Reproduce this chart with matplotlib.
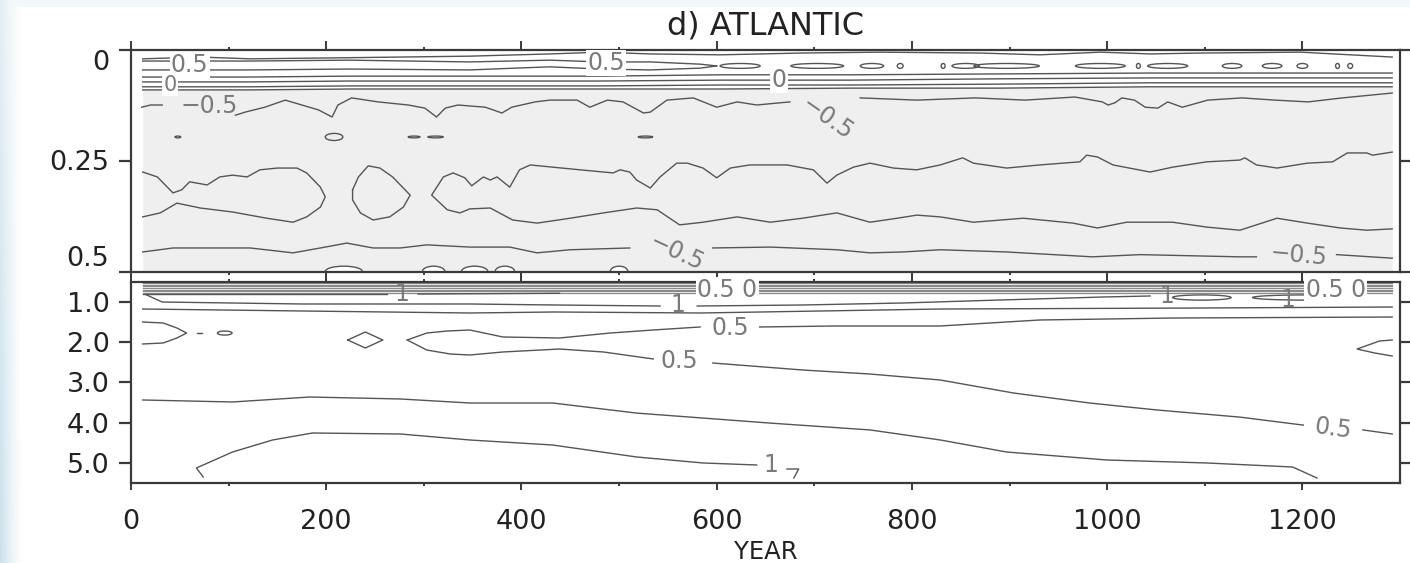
import numpy as np
import matplotlib.pyplot as plt
from matplotlib.patches import Ellipse

# ---- data: x = model year, y = depth (km) ----
# upper panel (0 - 0.5 km)
t1_yr = [12, 71, 122, 204, 276, 347, 429, 481, 532, 604, 686, 767, 870, 931, 993, 1044, 1095, 1198, 1292]
t1_dep = [.021, .017, .021, .019, .017, .015, .010, .006, .010, .012, .008, .006, .008, .012, .006, .010, .008, .006, .017]

t2_yr = [12, 122, 224, 347, 429, 481, 532, 583, 600]
t2u_dep = [.026, .026, .024, .028, .024, .028, .028, .033, .037]
t2l_dep = [.046, .046, .044, .046, .039, .044, .046, .042, .037]

# small closed 0.5 islands along ~0.037 km
isl_yr = [624, 703, 759, 788, 832, 855, 897, 993, 1032, 1062, 1128, 1169, 1200, 1236, 1249]
isl_w = [41, 54, 24, 6, 4, 28, 67, 51, 4, 41, 20, 20, 11, 4, 5]

strat_yr = [12, 122, 224, 347, 481, 604, 737, 890, 1044, 1198, 1292]
t3_dep = [.062, .062, .060, .060, .060, .057, .057, .055, .053, .053, .053]
t4_dep = [.073, .073, .071, .071, .071, .069, .069, .066, .064, .064, .064]
t5_dep = [.084, .084, .082, .082, .082, .080, .080, .078, .075, .075, .075]
t6_dep = [.091, .091, .089, .089, .089, .089, .087, .087, .084, .084, .084]

t7a_yr = [11, 20, 32]
t7a_dep = [.130, .125, .125]
t7b_yr = [107, 117, 137, 158, 175, 192, 206, 212, 226, 253, 284, 301, 313, 322, 335, 363, 380, 390,
          414, 429, 457, 470, 488, 504, 525, 532, 549, 576, 600, 621, 641, 675]
t7b_dep = [.148, .141, .130, .114, .125, .136, .152, .125, .109, .118, .125, .132, .152, .132, .125, .130, .143, .130,
           .118, .114, .114, .130, .114, .118, .143, .141, .114, .109, .130, .118, .125, .118]
t7c_yr = [747, 805, 865, 916, 967, 995, 1001, 1008, 1015, 1028, 1039, 1052, 1062, 1077, 1103, 1138, 1172, 1206, 1241, 1292]
t7c_dep = [.109, .114, .109, .114, .107, .118, .125, .120, .109, .114, .130, .132, .118, .130, .114, .109, .114, .118, .109, .098]

# short pieces near 0.2 km
dash_yr = [48, 208, 290, 312, 527]
dash_w = [6, 18, 12, 16, 15]
dash_h = [.004, .016, .004, .004, .004]

m1_yr = [12, 27, 43, 52, 60, 78, 91, 104, 119, 132, 150, 170, 180, 194, 199, 194, 180, 166, 139, 104, 71, 47, 30, 12]
m1_dep = [.276, .287, .323, .316, .298, .305, .287, .283, .287, .271, .267, .267, .278, .310, .332, .355, .377, .389,
          .380, .366, .357, .346, .368, .377]
m2_yr = [227, 233, 243, 255, 268, 286, 279, 265, 248, 235, 227, 227]
m2_dep = [.316, .287, .262, .267, .287, .328, .355, .377, .384, .368, .339, .316]

m3u_yr = [308, 320, 330, 342, 349, 361, 368, 375, 388, 398, 409, 432, 460, 494, 501, 511, 518, 532, 542, 559, 570,
          586, 600, 614, 634, 672, 699, 713, 723, 740, 757, 781, 805, 829, 852, 863, 897, 931, 972, 979, 990, 1006,
          1044, 1067, 1102, 1136, 1141, 1153, 1174, 1205, 1231, 1246, 1266, 1272, 1292]
m3u_dep = [.328, .287, .278, .289, .307, .287, .294, .287, .310, .271, .260, .265, .271, .278, .271, .276, .294, .312,
           .287, .256, .256, .267, .289, .267, .260, .260, .271, .301, .283, .265, .256, .267, .271, .260, .244, .256,
           .267, .260, .253, .238, .242, .260, .276, .265, .253, .249, .244, .260, .267, .256, .253, .233, .233, .238, .231]
m3l_yr = [308, 324, 337, 347, 368, 391, 416, 450, 484, 518, 539, 562, 586, 621, 655, 688, 723, 757, 785, 805, 829,
          863, 914, 965, 990, 1020, 1067, 1102, 1136, 1174, 1205, 1239, 1266, 1292]
m3l_dep = [.328, .361, .368, .359, .357, .384, .391, .380, .368, .357, .361, .395, .389, .377, .389, .380, .368, .389,
           .380, .373, .377, .389, .380, .391, .402, .389, .389, .400, .407, .380, .391, .402, .407, .404]

t8a_yr = [12, 43, 71, 122, 166, 194, 221, 248, 276, 303, 347, 388, 416, 450, 511]
t8a_dep = [.456, .447, .447, .447, .458, .447, .436, .447, .447, .440, .445, .445, .458, .451, .447]
t8b_yr = [596, 655, 723, 757, 791, 829, 897, 985, 1034, 1136, 1153]
t8b_dep = [.447, .445, .451, .458, .456, .451, .456, .467, .462, .467, .467]
t8c_yr = [1235, 1292]
t8c_dep = [.462, .470]

hump_yr = [218, 310, 352, 383, 500]
hump_w = [38, 23, 27, 20, 18]

# lower panel (0.5 - 5.5 km)
band_dep = [0.53, 0.57, 0.61, 0.65, 0.69, 0.73, 0.77]
band_yr = [12, 1292]

b1_yr = [12, 262]
b1_dep = [0.80, 0.80]
b1b_yr = [294, 439]
b1b_dep = [0.80, 0.78]
b2a_yr = [16, 32, 175, 347, 434, 542]
b2a_dep = [0.823, 0.998, 1.047, 1.047, 1.072, 1.097]
b2b_yr = [580, 688, 791, 890, 996, 1044]
b2b_dep = [1.097, 1.072, 1.022, 0.948, 0.873, 0.848]
lens_yr = [1097, 1205]
lens_w = [60, 112]
b3_yr = [12, 175, 347, 434, 583, 829, 1095, 1292]
b3_dep = [1.172, 1.221, 1.271, 1.246, 1.271, 1.172, 1.147, 1.122]

c1_yr = [12, 33, 47, 57, 47, 33, 12]
c1_dep = [1.495, 1.520, 1.644, 1.769, 1.893, 2.017, 2.042]
c1_dash_yr = [68, 73]
c1_dash_dep = [1.769, 1.769]
c1_loop_yr = [96]
c1_loop_w = [15]
c2_yr = [222, 240, 258, 240, 222]
c2_dep = [1.943, 1.744, 1.943, 2.142, 1.943]
c3u_yr = [283, 303, 324, 347, 381, 439, 491, 535, 583]
c3u_dep = [1.943, 1.769, 1.719, 1.694, 1.868, 1.893, 1.769, 1.694, 1.619]
c3u2_yr = [644, 723, 829, 931, 1067, 1292]
c3u2_dep = [1.619, 1.594, 1.594, 1.445, 1.396, 1.371]
c3l_yr = [283, 303, 327, 347, 381, 439, 484, 535]
c3l_dep = [1.943, 2.192, 2.291, 2.316, 2.241, 2.167, 2.241, 2.415]
c3l2_yr = [596, 688, 757, 829, 904, 982, 1051, 1136, 1201]
c3l2_dep = [2.515, 2.689, 2.789, 2.938, 3.261, 3.510, 3.684, 3.861, 4.060]
c3l3_yr = [1262, 1292]
c3l3_dep = [4.180, 4.281]
c4_yr = [1292, 1279, 1256, 1274, 1292]
c4_dep = [1.943, 1.968, 2.167, 2.266, 2.341]

d1_yr = [12, 104, 183, 276, 347, 432, 518, 655, 757, 829, 897, 1000, 1102, 1190, 1215]
d1_dep = [3.435, 3.485, 3.361, 3.410, 3.510, 3.510, 3.761, 4.010, 4.180, 4.430, 4.729, 4.928, 5.002, 5.102, 5.376]
e1_yr = [74, 67, 104, 145, 186, 276, 347, 432, 518, 586, 641]
e1_dep = [5.351, 5.127, 4.729, 4.430, 4.256, 4.281, 4.430, 4.555, 4.853, 5.002, 5.052]
e1b_yr = [672, 684, 679]
e1b_dep = [5.152, 5.152, 5.376]

LC = '#555555'
TC = '#7a7a7a'
SC = '#3a3a3a'
LW = 1.0

plt.rcParams['font.family'] = 'DejaVu Sans'
fig = plt.figure(figsize=(14.1, 5.63), dpi=100)

# slide background tint at the left / top edge
bg = fig.add_axes([0, 0, 1, 1], zorder=-10)
bg.axis('off')
h, w = 563, 1410
img = np.ones((h, w, 3))
xs = np.arange(w)
ys = np.arange(h)
a = np.clip(1 - xs / 22.0, 0, 1) ** 1.3
v = 0.55 + 0.45 * ys / h
alpha = v[:, None] * a[None, :]
tint = np.array([0.80, 0.88, 0.92])
img = img * (1 - alpha[..., None]) + tint * alpha[..., None]
img[:7, :, :] = np.minimum(img[:7, :, :], np.array([0.95, 0.97, 0.98]))
bg.imshow(img, aspect='auto', extent=[0, 1, 0, 1])

ax1 = fig.add_axes([131 / 1410, 1 - 271.5 / 563, 1269 / 1410, 222 / 563])
ax2 = fig.add_axes([131 / 1410, 1 - 483 / 563, 1269 / 1410, 201 / 563])


def line(ax, x, y):
    ax.plot(x, y, color=LC, lw=LW, solid_joinstyle='round')


def lab(ax, x, y, s, rot=0, fc=None, size=17):
    kw = dict(ha='center', va='center', color=TC, fontsize=size, rotation=rot, zorder=5)
    if fc is not None:
        kw['bbox'] = dict(boxstyle='square,pad=0.05', fc=fc, ec='none')
    ax.text(x, y, s, **kw)


# ---------- upper panel ----------
ax1.fill_between(strat_yr, t6_dep, 0.5, color='#efefef', lw=0, zorder=0)
for xc, wd in zip(hump_yr, hump_w):
    ax1.add_patch(Ellipse((xc, 0.5), wd, 0.024, fc='white', ec=LC, lw=LW, zorder=1))
line(ax1, t1_yr, t1_dep)
line(ax1, t2_yr, t2u_dep)
line(ax1, t2_yr, t2l_dep)
for xc, wd in zip(isl_yr, isl_w):
    ax1.add_patch(Ellipse((xc, 0.037), wd, 0.011, fill=False, ec=LC, lw=LW))
for d in (t3_dep, t4_dep, t5_dep, t6_dep):
    line(ax1, strat_yr, d)
line(ax1, t7a_yr, t7a_dep)
line(ax1, t7b_yr, t7b_dep)
line(ax1, t7c_yr, t7c_dep)
for xc, wd, hh in zip(dash_yr, dash_w, dash_h):
    ax1.add_patch(Ellipse((xc, 0.197), wd, hh, fill=False, ec=LC, lw=LW))
line(ax1, m1_yr, m1_dep)
line(ax1, m2_yr, m2_dep)
line(ax1, m3u_yr[::-1] + m3l_yr[1:], m3u_dep[::-1] + m3l_dep[1:])
line(ax1, t8a_yr, t8a_dep)
line(ax1, t8b_yr, t8b_dep)
line(ax1, t8c_yr, t8c_dep)

lab(ax1, 60, 0.036, '0.5', fc='white')
lab(ax1, 40, 0.080, '0', fc='white', size=15)
lab(ax1, 80, 0.127, '\u22120.5')
lab(ax1, 487, 0.030, '0.5', fc='white')
lab(ax1, 664, 0.069, '0', fc='white')
lab(ax1, 713, 0.155, '\u22120.5', rot=-35)
lab(ax1, 559, 0.458, '\u22120.5', rot=-25)
lab(ax1, 1196, 0.465, '\u22120.5', rot=-5)

ax1.set_xlim(0, 1300)
ax1.set_ylim(0.5, 0)
ax1.set_yticks([0, 0.25, 0.5])
ax1.set_yticklabels(['0', '0.25', '0.5'])
yl = ax1.get_yticklabels()
yl[0].set_va('top')
yl[2].set_va('bottom')
ax1.set_title('d) ATLANTIC', fontsize=23, pad=11, color='#222222')

# ---------- lower panel ----------
for d in band_dep:
    ax2.plot(band_yr, [d, d], color='#8a8a8a', lw=0.9)
line(ax2, b1_yr, b1_dep)
line(ax2, b1b_yr, b1b_dep)
line(ax2, b2a_yr, b2a_dep)
line(ax2, b2b_yr, b2b_dep)
for xc, wd in zip(lens_yr, lens_w):
    ax2.add_patch(Ellipse((xc, 0.886), wd, 0.13, fill=False, ec=LC, lw=LW))
line(ax2, b3_yr, b3_dep)
line(ax2, c1_yr, c1_dep)
line(ax2, c1_dash_yr, c1_dash_dep)
for xc, wd in zip(c1_loop_yr, c1_loop_w):
    ax2.add_patch(Ellipse((xc, 1.77), wd, 0.1, fill=False, ec=LC, lw=LW))
line(ax2, c2_yr, c2_dep)
line(ax2, c3u_yr, c3u_dep)
line(ax2, c3u2_yr, c3u2_dep)
line(ax2, c3l_yr, c3l_dep)
line(ax2, c3l2_yr, c3l2_dep)
line(ax2, c3l3_yr, c3l3_dep)
line(ax2, c4_yr, c4_dep)
line(ax2, d1_yr, d1_dep)
line(ax2, e1_yr, e1_dep)
line(ax2, e1b_yr, e1b_dep)

lab(ax2, 277, 0.80, '1')
lab(ax2, 611, 0.70, '0.5 0', fc='white')
lab(ax2, 1234, 0.70, '0.5 0', fc='white')
lab(ax2, 560, 1.072, '1')
lab(ax2, 1061, 0.84, '1')
lab(ax2, 1185, 0.95, '1')
lab(ax2, 614, 1.644, '0.5')
lab(ax2, 562, 2.465, '0.5')
lab(ax2, 1231, 4.16, '0.5', rot=-8)
lab(ax2, 656, 5.05, '1')

ax2.set_xlim(0, 1300)
ax2.set_ylim(5.5, 0.5)
ax2.set_yticks([1, 2, 3, 4, 5])
ax2.set_yticklabels(['1.0', '2.0', '3.0', '4.0', '5.0'])
ax2.set_xlabel('YEAR', fontsize=17.5, labelpad=3, color='#222222')

for ax in (ax1, ax2):
    ax.set_xticks(range(0, 1201, 200))
    ax.set_xticks(range(100, 1300, 200), minor=True)
    for s in ax.spines.values():
        s.set_linewidth(1.6)
        s.set_color(SC)
    ax.tick_params(axis='y', which='major', direction='out', length=8.5, width=1.6, color=SC,
                   left=True, right=True, labelsize=19.5, labelcolor='#222222', pad=7)
    ax.tick_params(axis='x', which='both', direction='out', top=True, bottom=True, width=1.4, color=SC)
    ax.tick_params(axis='x', which='minor', length=2.2)
    ax.set_facecolor('white')

ax1.tick_params(axis='x', which='major', length=6.5, labelbottom=False)
ax2.tick_params(axis='x', which='major', length=5, labelsize=19.5, labelcolor='#222222', pad=14)

fig.savefig('out.png', dpi=100)
